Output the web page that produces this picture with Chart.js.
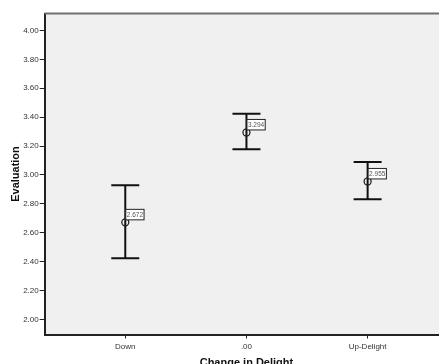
<!DOCTYPE html>
<html>
<head>
<meta charset="utf-8">
<script src="https://cdn.jsdelivr.net/npm/chart.js@4/dist/chart.umd.min.js"></script>
<style>
  html, body { margin: 0; padding: 0; background: #ffffff; overflow: hidden; width: 439px; height: 364px; }
  canvas { display: block; }
</style>
</head>
<body>
<canvas id="c" width="453" height="372"></canvas>
<script>
const categories = ['Down', '.00', 'Up-Delight'];
const means = [2.672, 3.294, 2.955];
const ciLower = [2.424, 3.177, 2.831];
const ciUpper = [2.928, 3.423, 3.089];
const yTicks = [2.00, 2.20, 2.40, 2.60, 2.80, 3.00, 3.20, 3.40, 3.60, 3.80, 4.00];
const xTicks = [1, 2, 3];

const FONT = "'Liberation Sans', Arial, Helvetica, sans-serif";

const plotBg = {
  id: 'plotBg',
  beforeDraw(chart) {
    const { ctx, chartArea: a } = chart;
    ctx.save();
    ctx.fillStyle = '#f0f0f0';
    ctx.fillRect(a.left, a.top, a.right - a.left, a.bottom - a.top);
    ctx.restore();
  },
  afterDraw(chart) {
    const { ctx, chartArea: a } = chart;
    ctx.save();
    ctx.strokeStyle = '#6f6f6f';
    ctx.lineWidth = 2;
    ctx.beginPath();
    ctx.moveTo(a.left, a.top);
    ctx.lineTo(a.right, a.top);
    ctx.lineTo(a.right, a.bottom);
    ctx.stroke();
    ctx.restore();
  }
};

const errorBars = {
  id: 'errorBars',
  beforeDatasetsDraw(chart) {
    const { ctx, scales: { x, y } } = chart;
    ctx.save();
    ctx.strokeStyle = '#111';
    ctx.lineWidth = 2;
    for (let i = 0; i < means.length; i++) {
      const px = x.getPixelForValue(xTicks[i]);
      const yl = y.getPixelForValue(ciLower[i]);
      const yu = y.getPixelForValue(ciUpper[i]);
      ctx.beginPath();
      ctx.moveTo(px, yu); ctx.lineTo(px, yl);
      ctx.moveTo(px - 14, yu); ctx.lineTo(px + 14, yu);
      ctx.moveTo(px - 14, yl); ctx.lineTo(px + 14, yl);
      ctx.stroke();
    }
    ctx.restore();
  },
  afterDatasetsDraw(chart) {
    const { ctx, scales: { x, y } } = chart;
    ctx.save();
    ctx.font = '6.5px ' + FONT;
    for (let i = 0; i < means.length; i++) {
      const px = x.getPixelForValue(xTicks[i]);
      const py = y.getPixelForValue(means[i]);
      const txt = means[i].toFixed(3);
      const w = ctx.measureText(txt).width + 2;
      const left = px + 0.5, top = py - 13, h = 10.5;
      ctx.fillStyle = '#ffffff';
      ctx.fillRect(left, top, w, h);
      ctx.strokeStyle = '#222';
      ctx.lineWidth = 1;
      ctx.strokeRect(left, top, w, h);
      ctx.fillStyle = '#555';
      ctx.textBaseline = 'middle';
      ctx.textAlign = 'left';
      ctx.fillText(txt, left + 1, top + h / 2 + 0.5);
    }
    ctx.restore();
  }
};

new Chart(document.getElementById('c'), {
  type: 'scatter',
  data: {
    datasets: [{
      data: means.map((m, i) => ({ x: xTicks[i], y: m })),
      pointRadius: 3.5,
      pointHoverRadius: 3.5,
      borderColor: '#222',
      backgroundColor: 'rgba(0,0,0,0)',
      borderWidth: 1.3,
      showLine: false
    }]
  },
  options: {
    responsive: false,
    animation: false,
    events: [],
    layout: { padding: { top: 13.5, right: 1, left: 0, bottom: 0 } },
    plugins: { legend: { display: false }, tooltip: { enabled: false } },
    scales: {
      x: {
        type: 'linear',
        min: 0.335,
        max: 3.665,
        afterBuildTicks(scale) { scale.ticks = xTicks.map(v => ({ value: v })); },
        afterFit(scale) { scale.height = 37.5; },
        ticks: {
          callback: (v) => categories[xTicks.indexOf(v)] ?? '',
          font: { family: FONT, size: 8 },
          color: '#333',
          padding: 3,
          maxRotation: 0,
          autoSkip: false
        },
        grid: { drawOnChartArea: false, tickLength: 4, color: '#222', lineWidth: 1 },
        border: { color: '#222', width: 2 },
        title: {
          display: true,
          text: 'Change in Delight',
          font: { family: FONT, size: 11, weight: 'bold' },
          color: '#111',
          padding: { top: 0, bottom: 2.2 }
        }
      },
      y: {
        min: 1.896,
        max: 4.117,
        afterBuildTicks(scale) { scale.ticks = yTicks.map(v => ({ value: v })); },
        afterFit(scale) { scale.width = 44.7; },
        ticks: {
          callback: (v) => v.toFixed(2),
          font: { family: FONT, size: 8 },
          color: '#333',
          padding: 1
        },
        grid: { drawOnChartArea: false, tickLength: 5, color: '#222', lineWidth: 1 },
        border: { color: '#222', width: 2 },
        title: {
          display: true,
          text: 'Evaluation',
          font: { family: FONT, size: 11, weight: 'bold' },
          color: '#111',
          padding: { top: 9, bottom: 0 }
        }
      }
    }
  },
  plugins: [plotBg, errorBars]
});
</script>
</body>
</html>
